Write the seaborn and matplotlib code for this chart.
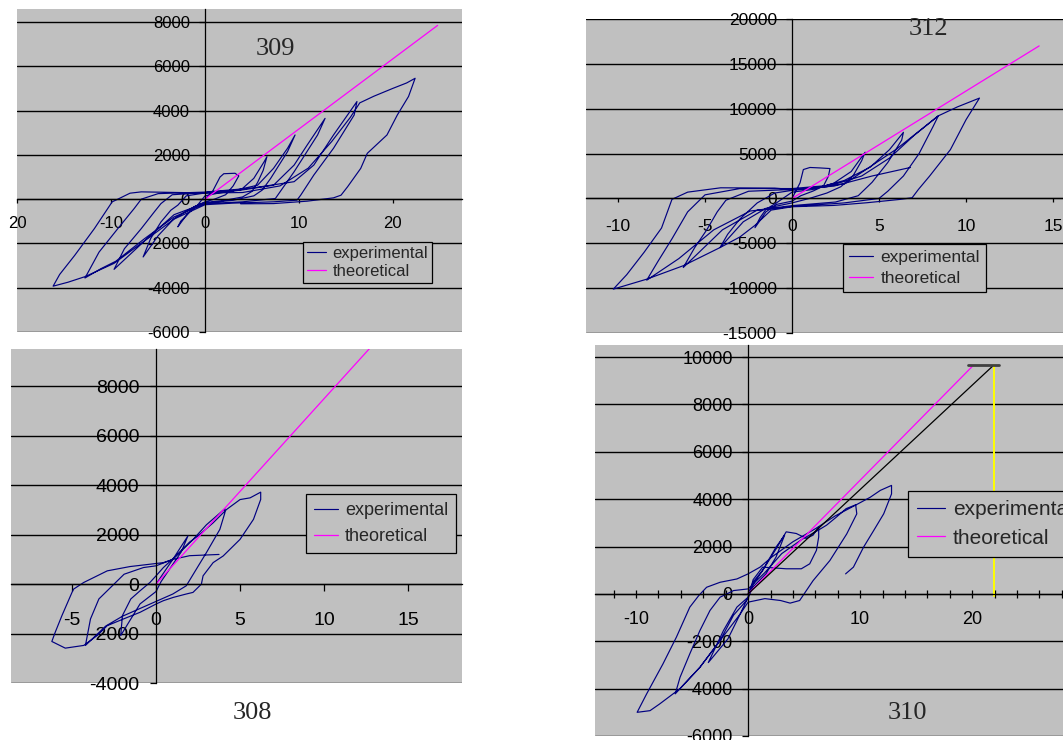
import matplotlib
matplotlib.use("Agg")
import matplotlib.pyplot as plt
import seaborn as sns
import pandas as pd

sns.set_style("white", {"axes.facecolor": "#c0c0c0"})
plt.rcParams["font.family"] = ["Liberation Sans", "DejaVu Sans"]
plt.rcParams["axes.unicode_minus"] = False

EXP = "#000080"
THEO = "#ff00ff"

#%% data (displacement, force)
loop_309 = [
    (0, 0), (0.8, 350), (1.6, 1000), (2.0, 1150), (3.2, 1170), (3.6, 1050), (3.0, 600), (2.2, 200), (1.0, 0), (0, -120),
    (-1.2, -350), (-2.2, -850), (-2.9, -1250), (-2.6, -1000), (-1.8, -650), (-0.8, -270), (0, 150), (1.5, 280), (3.8, 410),
    (5.2, 940), (6.3, 1690), (6.6, 1920), (6.2, 1300), (5.6, 750), (5.0, 350), (4.0, 100), (2.0, -60), (0, -150),
    (-1.2, -350), (-3.3, -880), (-5.0, -1650), (-6.6, -2610), (-5.8, -1780), (-4.7, -1030), (-3.65, -500), (-2.9, -270),
    (-2.0, 150), (0, 280), (3.0, 380),
    (5.6, 630), (7.3, 1390), (8.8, 2300), (9.6, 2900), (8.8, 2150), (7.0, 940), (6.1, 410), (5.2, 150), (3.0, -50), (0, -180),
    (-3.3, -700), (-5.8, -1630), (-8.0, -2500), (-9.7, -3170), (-8.6, -2240), (-6.8, -1330), (-5.4, -570), (-4.7, -200),
    (-3.5, 200), (0, 300), (4.0, 420),
    (7.3, 630), (9.5, 1540), (10.9, 2450), (12.8, 3650), (12.0, 2900), (9.5, 1240), (8.0, 330), (7.5, 30), (4.0, -120), (0, -200),
    (-3.3, -800), (-6.5, -1800), (-9.5, -2800), (-11.1, -3140), (-12.8, -3560), (-11.3, -2390), (-9.3, -1330), (-7.55, -420),
    (-6.8, 0), (-5.0, 250), (0, 320), (5.0, 500),
    (9.5, 790), (11.6, 1540), (13.7, 2900), (16.2, 4410), (15.9, 3800), (13.7, 2300), (11.6, 1090), (10.2, 180), (9.8, -45),
    (7.3, -120), (3.0, -180), (0, -250),
    (-3.3, -900), (-6.5, -1900), (-9.7, -2900), (-12.8, -3500), (-14.6, -3750), (-16.2, -3930), (-15.5, -3400), (-13.9, -2540),
    (-11.8, -1330), (-9.9, -120), (-9.3, 0), (-8.0, 270), (-6.8, 330), (-3.0, 300), (0, 280), (4.0, 300),
    (8.0, 600), (11.0, 1400), (13.5, 2600), (15.5, 3700), (16.5, 4350), (18.0, 4650), (20.0, 5000), (21.5, 5250), (22.4, 5460),
    (21.7, 4640), (20.5, 3800), (19.4, 2900), (17.3, 2070), (16.6, 1390), (15.2, 560), (14.5, 180), (13.7, 60), (10.9, -90),
    (7.3, -200), (3.8, -210),
]
theo_309_x = [0, 24.8]
theo_309_y = [0, 7850]

loop_312 = [
    (0, 0), (0.46, 1740), (0.65, 3220), (1.03, 3450), (1.6, 3400), (2.18, 3330), (2.09, 2480), (1.8, 1370), (1.2, 815),
    (0.5, 300), (0, -300),
    (-0.9, -670), (-1.5, -1500), (-2.13, -3260), (-1.84, -2150), (-1.5, -1220), (-0.9, -500), (0, 700), (1.2, 1000),
    (2.4, 1700), (3.4, 3000), (4.2, 5150),
    (4.0, 4200), (3.5, 2500), (2.8, 1300), (2.0, 600), (1.0, 0), (0, -500), (-1.5, -1100), (-2.8, -2600), (-4.14, -5480),
    (-3.7, -4000), (-3.0, -2300), (-2.0, -500), (-1.0, 600), (0, 900),
    (1.5, 1200), (3.0, 2000), (4.5, 3500), (5.6, 5440), (6.4, 7370), (6.3, 6500), (5.5, 4000), (4.6, 1800), (3.8, 300),
    (2.5, -400), (0, -800),
    (-2.0, -1300), (-4.0, -3500), (-6.25, -7700), (-5.6, -5500), (-4.9, -3500), (-4.3, -1500), (-3.8, -200), (-2.5, 800),
    (0, 1000),
    (2.0, 1300), (4.0, 2500), (5.6, 4500), (7.0, 7000), (8.41, 9220), (8.1, 8000), (7.3, 5000), (6.4, 2500), (5.5, 800),
    (5.0, 0), (3.0, -500), (0, -900),
    (-2.4, -1400), (-4.5, -3500), (-6.5, -6700), (-8.35, -9110), (-7.7, -7000), (-6.9, -4500), (-6.0, -1500), (-5.0, 400),
    (-3.0, 1100), (0, 1100),
    (3.0, 1600), (6.0, 5500), (8.4, 9200), (9.5, 10200), (10.77, 11185), (10.0, 8780), (9.1, 5440), (7.9, 2480),
    (7.26, 1000), (6.9, 74), (6.2, -110), (4.3, -480), (2.4, -780), (0, -930),
    (-1.2, -1300), (-2.13, -3000), (-3.0, -4300), (-4.14, -5480), (-6.25, -7500), (-8.35, -9000), (-10.27, -10110),
    (-9.5, -8500), (-8.5, -6000), (-7.5, -3300), (-6.9, -100), (-6.0, 700), (-4.1, 1185), (-1.0, 1150), (0, 1000),
    (2.4, 1370), (4.6, 2500), (6.8, 3450),
]
theo_312_x = [0, 14.2]
theo_312_y = [0, 17000]

loop_308 = [
    (0, 0), (0.5, 500), (1.0, 1000), (1.9, 1950), (1.5, 1300), (0.9, 700), (0.3, 100), (0, -300), (-0.95, -800),
    (-2.1, -2080),
    (-2.0, -1275), (-1.5, -600), (-0.95, -270), (-0.36, 67), (0, 335), (0.44, 670), (1.2, 1150), (2.2, 1800),
    (3.0, 2400), (4.1, 3050),
    (4.1, 2890), (3.8, 2215), (3.0, 1275), (2.4, 605), (1.8, -67), (1.0, -400), (0, -700), (-1.0, -1000), (-2.0, -1300),
    (-3.0, -1700), (-4.2, -2480),
    (-3.9, -1410), (-3.4, -600), (-2.6, -67), (-1.9, 400), (-0.75, 670), (0, 740), (1.0, 1000), (2.0, 1700), (2.5, 1950),
    (3.4, 2480), (4.2, 3020), (5.0, 3420), (5.6, 3490), (6.23, 3720),
    (6.23, 3425), (5.8, 2620), (5.0, 1810), (4.0, 1140), (3.4, 870), (2.8, 335), (2.7, 0), (2.2, -335), (1.8, -400),
    (1.03, -537), (0.44, -670), (0, -806),
    (-0.95, -1140), (-1.94, -1410), (-2.9, -1680), (-3.5, -2080), (-4.3, -2480), (-5.4, -2590), (-6.2, -2320),
    (-6.0, -1950), (-5.6, -1275), (-5.0, -335), (-4.9, -200), (-4.3, 67), (-2.9, 537), (-1.55, 710), (-0.36, 805),
    (0.44, 870), (1.0, 1000), (2.0, 1150), (3.75, 1200),
]
theo_308_x = [0, 13.0]
theo_308_y = [0, 9750]

loop_310 = [
    (0, 0), (0.45, 500), (1.3, 1000), (2.5, 1980), (3.26, 2480), (2.5, 1560), (1.6, 850), (0.45, 300), (0, -140),
    (-0.7, -845), (-1.8, -1900), (-3.55, -2900), (-2.2, -1550), (-1.0, -560), (0, -140),
    (0.45, 400), (1.3, 990), (2.5, 1900), (3.4, 2620), (4.3, 2550), (5.2, 2340), (5.8, 2480), (6.3, 2830), (6.3, 2400),
    (6.1, 1840), (5.5, 1270), (4.75, 1060), (3.4, 1060), (1.3, 1130), (0.45, 600), (0, -200),
    (-1.3, -900), (-2.5, -1970), (-4.3, -3100), (-6.5, -4220), (-6.07, -3520), (-5.2, -2530), (-4.3, -1550), (-3.4, -700),
    (-2.5, -140), (-1.3, 140), (0, 210),
    (1.5, 900), (3.0, 1700), (4.8, 2300), (6.3, 2700), (7.0, 2900), (7.9, 3250), (8.75, 3600), (9.6, 3760),
    (9.7, 3380), (8.8, 2530), (7.3, 1410), (5.8, 560), (5.2, 140), (4.6, -280), (3.75, -390), (2.9, -280), (1.5, -200),
    (0, -350),
    (-0.7, -845), (-2.5, -1970), (-4.3, -3100), (-6.1, -4010), (-7.9, -4650), (-8.75, -4930), (-9.9, -5000),
    (-9.05, -4220), (-7.6, -2960), (-6.4, -1830), (-5.2, -560), (-4.4, -70), (-3.7, 280), (-2.5, 490), (-1.0, 630),
    (0, 845), (1.07, 1130), (2.1, 1550),
    (4.0, 2200), (6.0, 2750), (7.8, 3300), (9.64, 3760), (10.9, 4080), (11.8, 4370), (12.8, 4580),
    (12.8, 4220), (12.1, 3380), (11.2, 2670), (10.3, 1970), (9.4, 1130), (8.7, 845),
]
theo_310_x = [0, 20.1]
theo_310_y = [0, 9650]
fit_310_x = [0, 21.9]
fit_310_y = [0, 9650]
cap_310_x = [19.6, 22.4]
cap_310_y = [9650, 9650]
drop_310_x = [21.9, 21.9]
drop_310_y = [-100, 9650]

#%% layout (pixel boxes of each grey plot area)
W, H = 1063, 740
fig = plt.figure(figsize=(W / 100, H / 100), dpi=100)


def add_panel(l, t, r, b):
    return fig.add_axes([l / W, 1 - b / H, (r - l) / W, (b - t) / H])


def draw(ax, loop, tx, ty):
    df = pd.DataFrame(loop, columns=["disp", "force"])
    sns.lineplot(data=df, x="disp", y="force", sort=False, estimator=None,
                 color=EXP, lw=0.85, ax=ax, label="experimental")
    sns.lineplot(x=tx, y=ty, sort=False, estimator=None,
                 color=THEO, lw=0.9, ax=ax, label="theoretical")


def style(ax, xlim, ylim, xt, xlab, yt, fs, xpad, ypad, xlen=3, xdir="out"):
    ax.set_xlim(xlim)
    ax.set_ylim(ylim)
    ax.set_xticks(xt, xlab)
    ax.set_yticks(yt, [str(v) for v in yt])
    ax.set_xlabel("")
    ax.set_ylabel("")
    for s in ["top", "right"]:
        ax.spines[s].set_visible(False)
    ax.spines["left"].set_position(("data", 0))
    ax.spines["bottom"].set_position(("data", 0))
    for s in ["left", "bottom"]:
        ax.spines[s].set_color("black")
        ax.spines[s].set_linewidth(0.9)
    ax.yaxis.grid(True, color="black", lw=1.0)
    ax.xaxis.grid(False)
    ax.set_axisbelow(True)
    ax.tick_params(axis="x", which="both", bottom=True, direction=xdir, length=xlen, width=0.9,
                   pad=xpad, labelsize=fs, color="black", labelcolor="black")
    ax.tick_params(axis="y", left=True, direction="out", length=4, width=0.9,
                   pad=ypad, labelsize=fs, color="black", labelcolor="black")


def legend(ax, x0, y1, fs, hl, ls=0.25, bp=0.3):
    ax.legend(loc="upper left", bbox_to_anchor=(x0, y1), borderaxespad=0, fontsize=fs,
              frameon=True, fancybox=False, framealpha=1, edgecolor="black",
              handlelength=hl, handletextpad=0.4, labelspacing=ls, borderpad=bp)
    ax.get_legend().get_frame().set_linewidth(0.9)


# 309 (top left)
ax1 = add_panel(17, 9, 462, 332)
draw(ax1, loop_309, theo_309_x, theo_309_y)
style(ax1, (-20.05, 27.4), (-6000, 8590), [-20, -10, 0, 10, 20], ["20", "-10", "0", "10", "20"],
      list(range(-6000, 8001, 2000)), 12, 9, 7)
legend(ax1, 0.643, 0.279, 12, 1.1, ls=0.15, bp=0.25)

# 312 (top right)
ax2 = add_panel(586, 19, 1063, 333)
draw(ax2, loop_312, theo_312_x, theo_312_y)
style(ax2, (-11.84, 15.57), (-15000, 20000), [-10, -5, 0, 5, 10, 15], ["-10", "-5", "0", "5", "10", "15"],
      list(range(-15000, 20001, 5000)), 12.5, 12, 7)
legend(ax2, 0.539, 0.283, 12.5, 1.4, ls=0.3, bp=0.35)

# 308 (bottom left)
ax3 = add_panel(11, 349, 462, 683)
draw(ax3, loop_308, theo_308_x, theo_308_y)
style(ax3, (-8.63, 18.21), (-4000, 9511), [-5, 0, 5, 10, 15], ["-5", "0", "5", "10", "15"],
      list(range(-4000, 8001, 2000)), 14, 15, 8, xlen=5)
legend(ax3, 0.654, 0.566, 13, 1.3, ls=0.5, bp=0.45)

# 310 (bottom right)
ax4 = add_panel(595, 345, 1063, 736)
draw(ax4, loop_310, theo_310_x, theo_310_y)
sns.lineplot(x=fit_310_x, y=fit_310_y, sort=False, estimator=None, color="black", lw=0.9, ax=ax4)
sns.lineplot(x=drop_310_x, y=drop_310_y, sort=False, estimator=None, color="#ffff00", lw=1.4, ax=ax4)
sns.lineplot(x=cap_310_x, y=cap_310_y, sort=False, estimator=None, color="#404040", lw=2.0, ax=ax4)
style(ax4, (-13.66, 28.1), (-6000, 10508), [-10, 0, 10, 20], ["-10", "0", "10", "20"],
      list(range(-6000, 10001, 2000)), 13, 9, 7, xlen=6, xdir="inout")
ax4.set_xticks(list(range(-12, 29, 2)), minor=True)
ax4.tick_params(axis="x", which="minor", bottom=True, direction="inout", length=6, width=0.9, color="black")
legend(ax4, 0.669, 0.627, 15, 1.3, ls=0.45, bp=0.45)

# panel captions
for label, px, py in [("309", 275, 49), ("312", 928, 29), ("308", 252, 713), ("310", 907, 713)]:
    fig.text(px / W, 1 - py / H, label, ha="center", va="center",
             family=["Liberation Serif", "DejaVu Serif"], size=19)

fig.savefig("out.png", dpi=100)
